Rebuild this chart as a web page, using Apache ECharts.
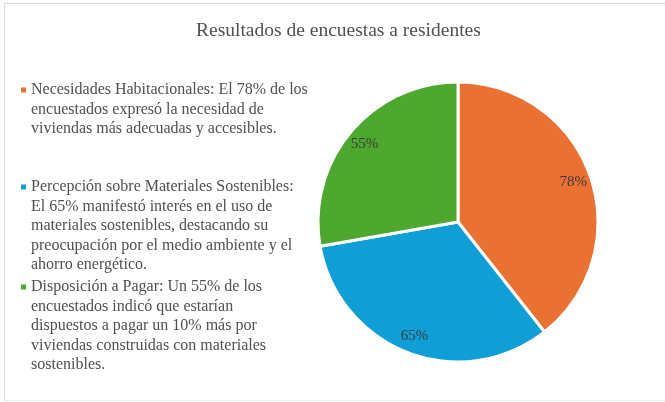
<!DOCTYPE html>
<html>
<head>
<meta charset="utf-8">
<script src="https://cdn.jsdelivr.net/npm/echarts@6/dist/echarts.min.js"></script>
<style>
  html, body { margin: 0; padding: 0; background: #fff; }
  #frame {
    position: absolute; left: 4px; top: 3px; width: 670px; height: 396px;
    border-top: 1px solid #dcdcdc; border-left: 1px solid #dcdcdc; border-bottom: 1px solid #f0f0f0;
  }
  #main { position: absolute; left: 0; top: 0; width: 665px; height: 402px; }
</style>
</head>
<body>
<div id="frame"></div>
<div id="main"></div>
<script>
// datos de la encuesta
const categories = ['Necesidades Habitacionales', 'Percepción sobre Materiales Sostenibles', 'Disposición a Pagar'];
const values = [78, 65, 55];
const colors = ['#E97132', '#0F9ED5', '#4EA72E'];
// texto de la leyenda, ya cortado en líneas como en el original
const legendLines = [
  ['Necesidades Habitacionales: El 78% de los', 'encuestados expresó la necesidad de', 'viviendas más adecuadas y accesibles.'],
  ['Percepción sobre Materiales Sostenibles:', 'El 65% manifestó interés en el uso de', 'materiales sostenibles, destacando su', 'preocupación por el medio ambiente y el', 'ahorro energético.'],
  ['Disposición a Pagar: Un 55% de los', 'encuestados indicó que estarían', 'dispuestos a pagar un 10% más por', 'viviendas construidas con materiales', 'sostenibles.']
];
const legendTops = [82, 179, 279];

var font = 'Liberation Serif';
var chart = echarts.init(document.getElementById('main'));

var rich = {
  t: { fontFamily: font, fontSize: 16, color: '#505050', lineHeight: 19.5, padding: [0, 0, 0, 5] },
  u: { fontFamily: font, fontSize: 16, color: '#505050', lineHeight: 19.5, padding: [0, 0, 0, 10] }
};
colors.forEach(function (c, i) {
  rich['m' + i] = { width: 5, height: 5, backgroundColor: c, verticalAlign: 'middle' };
});

var legends = categories.map(function (name, i) {
  return {
    data: [name],
    left: 16,
    top: legendTops[i],
    padding: 0,
    icon: 'none',
    itemWidth: 0,
    itemHeight: 0,
    itemGap: 0,
    selectedMode: false,
    formatter: function () {
      return legendLines[i].map(function (l, k) {
        return k === 0 ? '{m' + i + '|}{t|' + l + '}' : '{u|' + l + '}';
      }).join('\n');
    },
    textStyle: { rich: rich, padding: 0 }
  };
});

var data = categories.map(function (name, i) {
  return { name: name, value: values[i], itemStyle: { color: colors[i] } };
});

var option = {
  animation: false,
  title: {
    text: 'Resultados de encuestas a residentes',
    left: 191,
    top: 16,
    textStyle: { fontFamily: font, fontSize: 19.5, fontWeight: 'normal', color: '#505050' }
  },
  legend: legends,
  series: [
    {
      type: 'pie',
      center: [458, 222],
      radius: [0, 140],
      startAngle: 90,
      clockwise: true,
      silent: true,
      label: { show: false },
      labelLine: { show: false },
      itemStyle: { borderColor: '#fff', borderWidth: 3 },
      data: data
    },
    {
      // capa transparente solo para colocar las etiquetas más afuera
      type: 'pie',
      center: [458, 222],
      radius: [98, 140],
      startAngle: 90,
      clockwise: true,
      silent: true,
      itemStyle: { color: 'rgba(0,0,0,0)', borderWidth: 0 },
      label: {
        show: true,
        position: 'inside',
        formatter: '{c}%',
        fontFamily: font,
        fontSize: 15,
        color: '#3a3a3a'
      },
      labelLine: { show: false },
      data: categories.map(function (name, i) { return { name: name, value: values[i] }; })
    }
  ]
};
chart.setOption(option);
</script>
</body>
</html>
